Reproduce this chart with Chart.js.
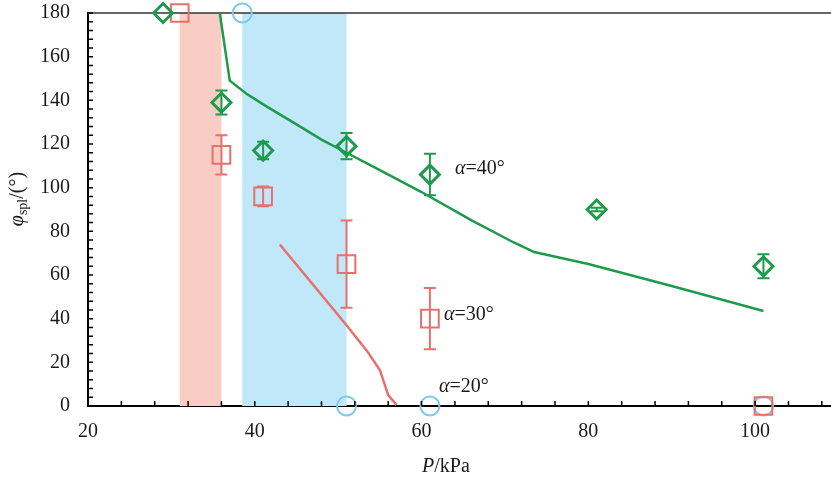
<!DOCTYPE html>
<html lang="en">
<head>
    <meta charset="UTF-8">
    <title>phi_spl vs P</title>
    <script src="https://cdn.jsdelivr.net/npm/chart.js"></script>
    <style>
        body { margin: 0; background: #fff; }
        #chart { display: block; }
    </style>
</head>
<body>
<canvas id="chart" width="831" height="477"></canvas>
<script>
    // axis ticks
    const xTicks = [20, 40, 60, 80, 100];
    const yTicks = [0, 20, 40, 60, 80, 100, 120, 140, 160, 180];

    // shaded pressure ranges (kPa)
    const pinkBand = [31, 36];
    const blueBand = [38.5, 51];

    // simulation curves
    const simP40 = [35.8, 37, 39, 41.5, 45, 48, 51, 55, 60, 66, 71, 73.5, 80, 90, 101];
    const simPhi40 = [180, 149, 143, 137, 129, 122, 116, 108, 98, 85, 75, 70.5, 65, 55, 43.5];
    const simP30 = [43, 47, 51, 53.5, 55, 56, 57];
    const simPhi30 = [74, 55.5, 37, 25, 16.5, 5, 0.5];

    // experiments, alpha = 40 deg
    const expP40 = [29, 36, 41, 51, 61, 81, 101];
    const expPhi40 = [180, 139, 117, 119, 106, 90, 64];
    const expErr40 = [0, 5.5, 4, 6, 9.5, 0.8, 5.5];

    // experiments, alpha = 30 deg
    const expP30 = [31, 36, 41, 51, 61, 101];
    const expPhi30 = [180, 115, 96, 65, 40, 0];
    const expErr30 = [0, 9, 4.5, 20, 14, 0];

    // experiments, alpha = 20 deg
    const expP20 = [38.5, 51, 61, 101];
    const expPhi20 = [180, 0, 0, 0];

    const GREEN = '#1d9a4b';
    const RED = '#e8706c';
    const BLUE = '#7ccbe9';
    const SERIF = '"Liberation Serif", "DejaVu Serif", serif';

    const pts = (xs, ys) => xs.map((x, i) => ({x: x, y: ys[i]}));

    const bandsPlugin = {
        id: 'bands',
        beforeDatasetsDraw(chart) {
            const {ctx, scales: {x, y}} = chart;
            const top = y.getPixelForValue(180), bot = y.getPixelForValue(0);
            ctx.save();
            ctx.fillStyle = '#f9cdc3';
            ctx.fillRect(x.getPixelForValue(pinkBand[0]), top,
                x.getPixelForValue(pinkBand[1]) - x.getPixelForValue(pinkBand[0]), bot - top);
            ctx.fillStyle = '#c0e8f8';
            ctx.fillRect(x.getPixelForValue(blueBand[0]), top,
                x.getPixelForValue(blueBand[1]) - x.getPixelForValue(blueBand[0]), bot - top);
            // top frame line
            ctx.strokeStyle = '#333';
            ctx.lineWidth = 1.5;
            ctx.beginPath();
            ctx.moveTo(chart.chartArea.left, top);
            ctx.lineTo(chart.chartArea.right, top);
            ctx.stroke();
            ctx.restore();
        }
    };

    function drawErrors(ctx, x, y, xs, ys, errs, color) {
        ctx.strokeStyle = color;
        ctx.lineWidth = 2;
        xs.forEach((p, i) => {
            if (!errs[i]) return;
            const px = x.getPixelForValue(p);
            const y1 = y.getPixelForValue(ys[i] + errs[i]);
            const y2 = y.getPixelForValue(ys[i] - errs[i]);
            ctx.beginPath();
            ctx.moveTo(px, y1); ctx.lineTo(px, y2);
            ctx.moveTo(px - 6, y1); ctx.lineTo(px + 6, y1);
            ctx.moveTo(px - 6, y2); ctx.lineTo(px + 6, y2);
            ctx.stroke();
        });
    }

    function drawMixed(ctx, parts, x0, y0) {
        let cx = x0;
        parts.forEach(p => {
            ctx.font = p.font;
            ctx.fillText(p.t, cx, y0 + (p.dy || 0));
            cx += ctx.measureText(p.t).width;
        });
        return cx - x0;
    }

    const extrasPlugin = {
        id: 'extras',
        afterDatasetsDraw(chart) {
            const {ctx, scales: {x, y}} = chart;
            ctx.save();
            drawErrors(ctx, x, y, expP40, expPhi40, expErr40, GREEN);
            drawErrors(ctx, x, y, expP30, expPhi30, expErr30, RED);

            // inward ticks
            ctx.strokeStyle = '#000';
            ctx.lineWidth = 1.5;
            ctx.beginPath();
            const by = y.getPixelForValue(0);
            for (let v = 20; v <= 108; v += 4) {
                const px = x.getPixelForValue(v);
                ctx.moveTo(px, by); ctx.lineTo(px, by - 5);
            }
            const lx = x.getPixelForValue(20);
            for (let v = 0; v <= 180; v += 4) {
                const py = y.getPixelForValue(v);
                ctx.moveTo(lx, py); ctx.lineTo(lx + 5, py);
            }
            ctx.stroke();

            // curve labels
            ctx.fillStyle = '#1a1a1a';
            ctx.textBaseline = 'alphabetic';
            const it = 'italic 20px ' + SERIF, rm = '20px ' + SERIF;
            drawMixed(ctx, [{t: 'α', font: it}, {t: '=40°', font: rm}], x.getPixelForValue(64), y.getPixelForValue(106.3));
            drawMixed(ctx, [{t: 'α', font: it}, {t: '=30°', font: rm}], x.getPixelForValue(62.7), y.getPixelForValue(39.4));
            drawMixed(ctx, [{t: 'α', font: it}, {t: '=20°', font: rm}], x.getPixelForValue(62.1), y.getPixelForValue(6.4));

            // axis titles
            drawMixed(ctx, [{t: 'P', font: it}, {t: '/kPa', font: rm}], 422, 472);

            const yParts = [{t: 'φ', font: it}, {t: 'spl', font: '14px ' + SERIF, dy: 4}, {t: '/(°)', font: rm}];
            let w = 0;
            yParts.forEach(p => { ctx.font = p.font; w += ctx.measureText(p.t).width; });
            ctx.translate(23, 199);
            ctx.rotate(-Math.PI / 2);
            drawMixed(ctx, yParts, -w / 2, 0);
            ctx.restore();
        }
    };

    const ctx = document.getElementById('chart').getContext('2d');
    new Chart(ctx, {
        type: 'scatter',
        data: {
            datasets: [
                {
                    data: pts(simP40, simPhi40), showLine: true, borderColor: GREEN,
                    borderWidth: 2.5, pointRadius: 0, clip: false
                },
                {
                    data: pts(simP30, simPhi30), showLine: true, borderColor: RED,
                    borderWidth: 2.5, pointRadius: 0, clip: false
                },
                {
                    data: pts(expP40, expPhi40), pointStyle: 'rectRot', pointRadius: 9.5,
                    borderColor: GREEN, backgroundColor: 'rgba(0,0,0,0)', pointBorderWidth: 3, clip: false
                },
                {
                    data: pts(expP30, expPhi30), pointStyle: 'rect', pointRadius: 12.5,
                    borderColor: RED, backgroundColor: 'rgba(0,0,0,0)', pointBorderWidth: 2, clip: false
                },
                {
                    data: pts(expP20, expPhi20), pointStyle: 'circle', pointRadius: 9.5,
                    borderColor: BLUE, backgroundColor: 'rgba(0,0,0,0)', pointBorderWidth: 2, clip: false
                }
            ]
        },
        options: {
            responsive: false,
            animation: false,
            layout: {autoPadding: false, padding: {top: 13, right: 0, left: 0, bottom: 0}},
            plugins: {legend: {display: false}, tooltip: {enabled: false}},
            scales: {
                x: {
                    type: 'linear', min: 20, max: 109.1,
                    afterBuildTicks: s => { s.ticks = xTicks.map(v => ({value: v})); },
                    afterFit: s => { s.height = 71; s.paddingLeft = 0; s.paddingRight = 0; },
                    grid: {display: false},
                    border: {display: true, color: '#000', width: 2},
                    ticks: {padding: 6, color: '#1a1a1a', font: {family: SERIF, size: 20}}
                },
                y: {
                    type: 'linear', min: 0, max: 180,
                    afterBuildTicks: s => { s.ticks = yTicks.map(v => ({value: v})); },
                    afterFit: s => { s.width = 88; s.paddingTop = 0; s.paddingBottom = 0; },
                    grid: {display: false},
                    border: {display: true, color: '#000', width: 2},
                    ticks: {padding: 10, color: '#1a1a1a', font: {family: SERIF, size: 20}}
                }
            }
        },
        plugins: [bandsPlugin, extrasPlugin]
    });
</script>
</body>
</html>
